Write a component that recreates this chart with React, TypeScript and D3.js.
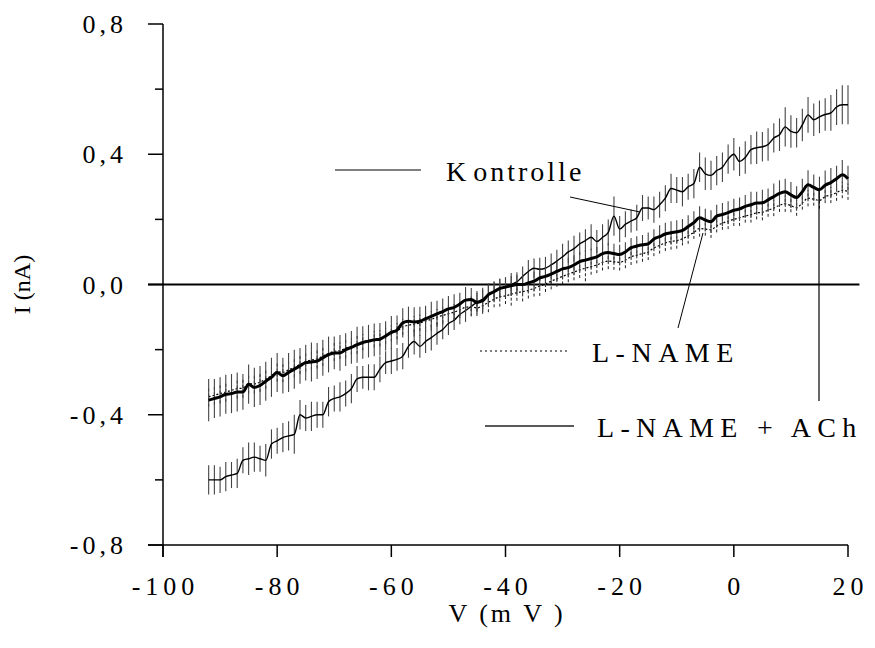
import React from "react";
import * as d3 from "d3";

const voltages: number[] = d3.range(-92, 21, 1);

const kontrolle: number[] = [
  -0.60,-0.60,-0.60,-0.59,-0.585,-0.58,-0.54,-0.535,-0.53,-0.535,
  -0.54,-0.49,-0.48,-0.47,-0.465,-0.46,-0.40,-0.41,-0.405,-0.40,
  -0.40,-0.36,-0.35,-0.345,-0.335,-0.32,-0.29,-0.285,-0.285,-0.285,
  -0.26,-0.24,-0.235,-0.23,-0.22,-0.19,-0.175,-0.19,-0.175,-0.163,
  -0.15,-0.138,-0.12,-0.11,-0.092,-0.08,-0.067,-0.055,-0.045,-0.031,
  -0.02,-0.012,-0.008,0.0,0.008,0.025,0.04,0.05,0.047,0.05,
  0.06,0.072,0.085,0.10,0.11,0.125,0.135,0.145,0.132,0.145,
  0.16,0.21,0.17,0.185,0.195,0.205,0.235,0.235,0.23,0.245,
  0.265,0.295,0.29,0.285,0.30,0.31,0.36,0.34,0.335,0.35,
  0.36,0.385,0.40,0.378,0.39,0.414,0.42,0.423,0.43,0.45,
  0.46,0.484,0.47,0.466,0.49,0.521,0.506,0.515,0.522,0.527,
  0.545,0.552,0.552,
];
const kontrolleErr: number[] = [
  0.045,0.045,0.04,0.045,0.04,0.045,0.04,0.05,0.045,0.04,
  0.05,0.045,0.04,0.045,0.045,0.06,0.045,0.04,0.045,0.04,
  0.04,0.045,0.04,0.045,0.04,0.045,0.04,0.035,0.04,0.04,
  0.04,0.035,0.04,0.035,0.04,0.035,0.04,0.035,0.035,0.04,
  0.035,0.03,0.035,0.03,0.03,0.035,0.03,0.03,0.035,0.03,
  0.03,0.03,0.03,0.035,0.03,0.03,0.035,0.03,0.035,0.035,
  0.035,0.035,0.04,0.035,0.04,0.035,0.035,0.04,0.035,0.04,
  0.04,0.06,0.04,0.04,0.035,0.04,0.04,0.035,0.04,0.04,
  0.04,0.045,0.04,0.045,0.04,0.045,0.045,0.05,0.045,0.045,
  0.045,0.045,0.05,0.045,0.05,0.045,0.05,0.045,0.05,0.045,
  0.05,0.06,0.05,0.045,0.05,0.055,0.05,0.05,0.05,0.055,
  0.055,0.06,0.06,
];

const lnameAch: number[] = [
  -0.355,-0.35,-0.345,-0.337,-0.335,-0.33,-0.33,-0.306,-0.316,-0.31,
  -0.297,-0.285,-0.27,-0.28,-0.27,-0.26,-0.25,-0.24,-0.238,-0.235,
  -0.225,-0.215,-0.21,-0.21,-0.2,-0.193,-0.185,-0.178,-0.174,-0.17,
  -0.168,-0.158,-0.147,-0.14,-0.118,-0.113,-0.115,-0.113,-0.105,-0.098,
  -0.09,-0.083,-0.075,-0.07,-0.06,-0.048,-0.046,-0.055,-0.05,-0.031,
  -0.022,-0.012,-0.008,-0.004,0.0,0.0,0.005,0.01,0.02,0.025,
  0.032,0.04,0.048,0.052,0.06,0.07,0.075,0.08,0.085,0.095,
  0.098,0.095,0.092,0.10,0.113,0.118,0.122,0.125,0.14,0.147,
  0.155,0.159,0.162,0.166,0.178,0.19,0.205,0.198,0.193,0.21,
  0.215,0.221,0.228,0.232,0.24,0.245,0.25,0.251,0.26,0.27,
  0.28,0.285,0.275,0.267,0.285,0.306,0.298,0.291,0.305,0.313,
  0.325,0.337,0.325,
];
const lnameAchErr: number[] = [
  0.065,0.06,0.06,0.06,0.06,0.06,0.055,0.06,0.06,0.06,
  0.06,0.06,0.06,0.055,0.06,0.06,0.055,0.055,0.06,0.055,
  0.055,0.055,0.05,0.055,0.05,0.05,0.055,0.05,0.05,0.05,
  0.05,0.045,0.05,0.045,0.045,0.045,0.045,0.045,0.04,0.045,
  0.04,0.04,0.04,0.04,0.035,0.04,0.035,0.035,0.035,0.035,
  0.03,0.03,0.03,0.03,0.03,0.03,0.03,0.03,0.03,0.03,
  0.03,0.03,0.03,0.03,0.03,0.03,0.03,0.03,0.03,0.03,
  0.03,0.03,0.03,0.03,0.03,0.03,0.03,0.035,0.03,0.035,
  0.035,0.035,0.035,0.035,0.035,0.035,0.035,0.035,0.035,0.035,
  0.035,0.035,0.035,0.035,0.035,0.04,0.035,0.04,0.035,0.04,
  0.04,0.04,0.04,0.035,0.04,0.045,0.04,0.04,0.045,0.045,
  0.04,0.045,0.04,
];

const lname: number[] = [
  -0.345,-0.34,-0.335,-0.33,-0.325,-0.32,-0.318,-0.305,-0.305,-0.30,
  -0.29,-0.28,-0.268,-0.27,-0.262,-0.255,-0.245,-0.237,-0.232,-0.228,
  -0.22,-0.212,-0.205,-0.203,-0.196,-0.19,-0.183,-0.177,-0.172,-0.168,
  -0.165,-0.158,-0.15,-0.143,-0.13,-0.125,-0.122,-0.118,-0.112,-0.107,
  -0.1,-0.095,-0.09,-0.085,-0.078,-0.07,-0.068,-0.072,-0.065,-0.055,
  -0.045,-0.038,-0.035,-0.03,-0.025,-0.022,-0.018,-0.012,-0.005,0.002,
  0.01,0.018,0.025,0.032,0.038,0.045,0.05,0.055,0.06,0.068,
  0.072,0.07,0.068,0.075,0.085,0.09,0.095,0.1,0.112,0.12,
  0.128,0.132,0.135,0.14,0.15,0.16,0.172,0.17,0.168,0.18,
  0.188,0.195,0.2,0.205,0.21,0.215,0.22,0.222,0.228,0.235,
  0.243,0.248,0.242,0.236,0.25,0.265,0.262,0.258,0.27,0.275,
  0.282,0.29,0.285,
];
const lnameErr: number[] = [
  0.03,0.03,0.03,0.03,0.03,0.03,0.03,0.03,0.03,0.03,
  0.03,0.03,0.03,0.03,0.03,0.03,0.03,0.03,0.03,0.03,
  0.03,0.025,0.03,0.025,0.03,0.025,0.03,0.025,0.03,0.025,
  0.025,0.025,0.025,0.025,0.025,0.025,0.025,0.025,0.025,0.025,
  0.025,0.025,0.025,0.025,0.025,0.025,0.03,0.025,0.025,0.03,
  0.025,0.03,0.025,0.035,0.025,0.03,0.025,0.025,0.03,0.025,
  0.025,0.025,0.025,0.025,0.025,0.025,0.04,0.025,0.025,0.025,
  0.025,0.025,0.025,0.025,0.025,0.025,0.025,0.025,0.025,0.025,
  0.025,0.025,0.025,0.02,0.025,0.02,0.025,0.02,0.025,0.02,
  0.02,0.025,0.02,0.025,0.02,0.025,0.02,0.025,0.02,0.025,
  0.02,0.025,0.02,0.025,0.02,0.025,0.02,0.025,0.02,0.025,
  0.025,0.025,0.025,
];

const xTicks: number[] = [-100, -80, -60, -40, -20, 0, 20];
const yTicks: number[] = [-0.8, -0.4, 0, 0.4, 0.8];
const yMinorTicks: number[] = [-0.6, -0.2, 0.2, 0.6];
const yTickLabels: string[] = ["-0,8", "-0,4", "0,0", "0,4", "0,8"];

const FONT = "Liberation Serif, DejaVu Serif, serif";

export default function App() {
  const x = d3.scaleLinear().domain([-100, 20]).range([163, 848]);
  const y = d3.scaleLinear().domain([-0.8, 0.8]).range([545, 24]);

  const line = (vals: number[]) =>
    d3
      .line<number>()
      .x((_, i) => x(voltages[i]))
      .y((d) => y(d))
      .curve(d3.curveMonotoneX)(vals) || "";

  const errBars = (vals: number[], errs: number[], props: any, key: string) =>
    vals.map((v, i) => (
      <line
        key={key + i}
        x1={x(voltages[i])}
        x2={x(voltages[i])}
        y1={y(v - errs[i])}
        y2={y(v + errs[i])}
        {...props}
      />
    ));

  const axisY = x(-100);
  const axisX = y(-0.8);
  const ts = (size: number, ls = 0): React.CSSProperties => ({
    fontFamily: FONT,
    fontSize: size,
    letterSpacing: ls,
  });

  return (
    <svg
      width={875}
      height={648}
      style={{ position: "absolute", left: 0, top: 0, background: "#fff" }}
    >
      <rect x={0} y={0} width={875} height={648} fill="#fff" />
      {/* axes */}
      <line x1={axisY} x2={axisY} y1={y(0.8)} y2={axisX + 12} stroke="#000" strokeWidth={1.5} />
      <line x1={axisY - 15} x2={x(20)} y1={axisX} y2={axisX} stroke="#000" strokeWidth={1.5} />
      {yTicks.map((t) => (
        <line key={"yt" + t} x1={axisY - 15} x2={axisY} y1={y(t)} y2={y(t)} stroke="#000" strokeWidth={1.5} />
      ))}
      {yMinorTicks.map((t) => (
        <line key={"ym" + t} x1={axisY - 8} x2={axisY} y1={y(t)} y2={y(t)} stroke="#000" strokeWidth={1.5} />
      ))}
      {xTicks.map((t) => (
        <line key={"xt" + t} x1={x(t)} x2={x(t)} y1={axisX} y2={axisX + 12} stroke="#000" strokeWidth={1.5} />
      ))}
      {yTicks.map((t, i) => (
        <text
          key={"yl" + t}
          x={axisY - 36}
          y={y(t) + 9}
          textAnchor="end"
          style={ts(26, 4)}
          fill="#000"
        >
          {yTickLabels[i]}
        </text>
      ))}
      {xTicks.map((t) => (
        <text
          key={"xl" + t}
          x={x(t) + 2.5}
          y={axisX + 50}
          textAnchor="middle"
          style={ts(26, 5)}
          fill="#000"
        >
          {String(t)}
        </text>
      ))}
      <text x={507} y={622} textAnchor="middle" style={ts(26, 3)} fill="#000">
        V  (m V )
      </text>
      <text
        transform={`translate(30, ${y(0)}) rotate(-90)`}
        textAnchor="middle"
        style={ts(24, 0)}
        fill="#000"
      >
        I (nA)
      </text>

      {/* zero line */}
      <line x1={axisY - 15} x2={x(22)} y1={y(0)} y2={y(0)} stroke="#000" strokeWidth={1.8} />

      {/* L-NAME (dotted) */}
      {errBars(lname, lnameErr, { stroke: "#222", strokeWidth: 1, strokeDasharray: "3,2" }, "le")}
      <path d={line(lname)} fill="none" stroke="#000" strokeWidth={1.2} strokeDasharray="2,2" />

      {/* Kontrolle */}
      {errBars(kontrolle, kontrolleErr, { stroke: "#444", strokeWidth: 1.1 }, "ke")}
      <path d={line(kontrolle)} fill="none" stroke="#000" strokeWidth={1.4} />

      {/* L-NAME + ACh */}
      {errBars(lnameAch, lnameAchErr, { stroke: "#444", strokeWidth: 1.1 }, "ae")}
      <path d={line(lnameAch)} fill="none" stroke="#000" strokeWidth={3} />

      {/* legend / annotations */}
      <line x1={335} x2={421} y1={170} y2={170} stroke="#000" strokeWidth={1} />
      <text x={446} y={181} style={ts(28, 3)} fill="#000">
        K<tspan dx={4}>ontrolle</tspan>
      </text>
      <line x1={570} x2={640} y1={197} y2={212} stroke="#000" strokeWidth={1} />

      <line x1={480} x2={567} y1={351} y2={351} stroke="#000" strokeWidth={1} strokeDasharray="2,3" />
      <text x={592} y={362} style={ts(28, 6.5)} fill="#000">
        L-NAME
      </text>
      <line x1={678} x2={703} y1={328} y2={233} stroke="#000" strokeWidth={1} />

      <line x1={485} x2={574} y1={426} y2={426} stroke="#222" strokeWidth={1.5} />
      <text x={597} y={437} style={ts(28, 6.3)} fill="#000">
        L-NAME + ACh
      </text>
      <line x1={819} x2={819} y1={190} y2={401} stroke="#000" strokeWidth={1.2} />
    </svg>
  );
}
